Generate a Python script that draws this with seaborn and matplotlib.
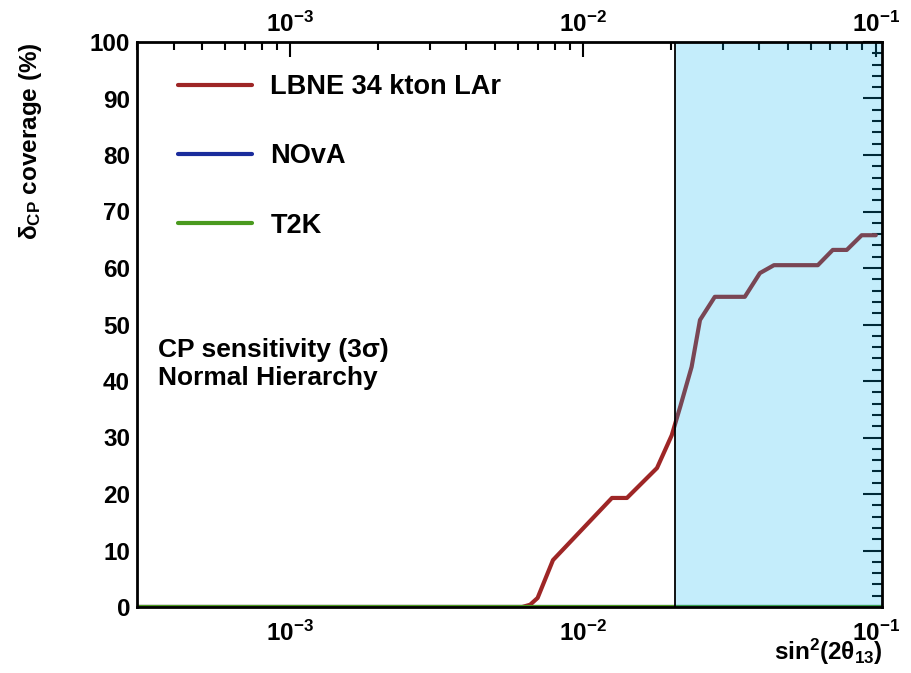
import numpy as np
import pandas as pd
import matplotlib
matplotlib.use("Agg")
import matplotlib.pyplot as plt
from matplotlib.ticker import FuncFormatter, NullFormatter, MultipleLocator, LogLocator, FixedLocator
import seaborn as sns

# sin^2(2 theta_13) grid and CP-violation coverage (%) at 3 sigma, normal hierarchy
sin2_2theta13 = [3.0e-4, 0.0062, 0.0066, 0.0070, 0.0079, 0.01256, 0.01413, 0.0179,
                 0.0201, 0.0215, 0.0235, 0.0251, 0.0282, 0.0357, 0.0402, 0.0449,
                 0.0634, 0.0713, 0.0796, 0.0895, 0.100]
lbne_coverage = [0.0, 0.0, 0.4, 1.6, 8.3, 19.3, 19.3, 24.6,
                 30.4, 35.5, 42.5, 50.8, 54.9, 54.9, 59.1, 60.5,
                 60.5, 63.2, 63.2, 65.8, 65.8]
nova_x = [3.0e-4, 0.105]
nova_coverage = [0.0, 0.0]
t2k_x = [3.0e-4, 0.105]
t2k_coverage = [0.0, 0.0]

experiments = ["LBNE 34 kton LAr", "NOvA", "T2K"]
colors = ["#9e2626", "#1a2c9c", "#4a9a1e"]

# current allowed region of sin^2(2 theta_13)
allowed_low = 0.0206
x_min, x_max = 3.0e-4, 0.105
x_major = [1e-3, 1e-2, 1e-1]
y_ticks = [0, 10, 20, 30, 40, 50, 60, 70, 80, 90, 100]

df = pd.concat([
    pd.DataFrame({"sin2": sin2_2theta13, "coverage": lbne_coverage, "experiment": experiments[0]}),
    pd.DataFrame({"sin2": nova_x, "coverage": nova_coverage, "experiment": experiments[1]}),
    pd.DataFrame({"sin2": t2k_x, "coverage": t2k_coverage, "experiment": experiments[2]}),
], ignore_index=True)

sns.set_style("white")
plt.rcParams["font.family"] = ["Liberation Sans", "DejaVu Sans"]
plt.rcParams["font.weight"] = "bold"
plt.rcParams["text.color"] = "black"
plt.rcParams["axes.labelcolor"] = "black"
plt.rcParams["xtick.color"] = "black"
plt.rcParams["ytick.color"] = "black"
plt.rcParams["mathtext.fontset"] = "custom"
plt.rcParams["mathtext.rm"] = "Liberation Sans:bold"
plt.rcParams["mathtext.it"] = "Liberation Sans:bold"
plt.rcParams["mathtext.bf"] = "Liberation Sans:bold"
plt.rcParams["mathtext.sf"] = "Liberation Sans:bold"
plt.rcParams["axes.unicode_minus"] = True

fig = plt.figure(figsize=(9.11, 6.73), dpi=100)
ax = fig.add_axes([137 / 911, 1 - 607 / 673, 745 / 911, 565 / 673])

sns.lineplot(data=df, x="sin2", y="coverage", hue="experiment", hue_order=experiments,
             palette=colors, linewidth=3, errorbar=None, ax=ax, legend=True, zorder=2)

ax.set_xscale("log")
ax.set_xlim(x_min, x_max)
ax.set_ylim(0, 100)

# shaded allowed region, laid over the curves
ax.axvspan(allowed_low, x_max, color=(0 / 255, 180 / 255, 240 / 255), alpha=0.23,
           lw=0, zorder=3)
ax.axvline(allowed_low, color="black", lw=1.3, zorder=4)

for s in ax.spines.values():
    s.set_linewidth(2.0)
    s.set_color("black")
    s.set_zorder(5)

ax.set_yticks(y_ticks)
ax.yaxis.set_minor_locator(MultipleLocator(2))
ax.xaxis.set_major_locator(FixedLocator(x_major))
ax.xaxis.set_minor_locator(LogLocator(base=10, subs=np.arange(2, 10), numticks=20))

def pow_fmt(v, pos):
    e = int(round(np.log10(v)))
    return r"$\mathregular{10^{%d}}$" % e

ax.xaxis.set_major_formatter(FuncFormatter(pow_fmt))
ax.xaxis.set_minor_formatter(NullFormatter())

ax.tick_params(axis="both", which="both", direction="in", top=True, right=True,
               color="black", width=1.5, labelsize=17.5, labelcolor="black")
ax.tick_params(axis="y", which="major", length=14, pad=5)
ax.tick_params(axis="y", which="minor", length=7)
ax.tick_params(axis="x", which="major", length=11, pad=10)
ax.tick_params(axis="x", which="minor", length=5.5)

# tick labels along the top edge
secax = ax.secondary_xaxis("top")
secax.xaxis.set_major_locator(FixedLocator(x_major))
secax.xaxis.set_minor_locator(FixedLocator([]))
secax.xaxis.set_major_formatter(FuncFormatter(pow_fmt))
secax.xaxis.set_minor_formatter(NullFormatter())
secax.tick_params(which="both", length=0, pad=4, labelsize=17.5, labelcolor="black")
secax.spines["top"].set_visible(False)

ax.set_xlabel("")
ax.set_ylabel("")

fig.text(0.034, 1 - 42 / 673, r"$\mathregular{δ_{CP}}$ coverage (%)", rotation=90,
         ha="center", va="top", fontsize=17.5, fontweight="bold", color="black")
fig.text(883 / 911, 1 - 660 / 673, r"$\mathregular{sin^{2}(2θ_{13})}$",
         ha="right", va="baseline", fontsize=17.5, fontweight="bold", color="black")

ax.text(0.028, 0.4425, "CP sensitivity (3σ)", transform=ax.transAxes, color="black",
        fontsize=19, fontweight="bold", va="baseline", ha="left", zorder=6)
ax.text(0.028, 0.393, "Normal Hierarchy", transform=ax.transAxes, color="black",
        fontsize=19, fontweight="bold", va="baseline", ha="left", zorder=6)

handles, labels = ax.get_legend_handles_labels()
leg = ax.legend(handles, labels, loc="upper left",
                bbox_to_anchor=(178 / 911, 1 - 74 / 673), bbox_transform=fig.transFigure,
                frameon=False, fontsize=19.5, handlelength=2.74, handletextpad=0.67,
                labelspacing=1.6, borderpad=0, borderaxespad=0)
for line in leg.get_lines():
    line.set_linewidth(3)
for t in leg.get_texts():
    t.set_fontweight("bold")
    t.set_color("black")

fig.savefig("out.png", dpi=100)
